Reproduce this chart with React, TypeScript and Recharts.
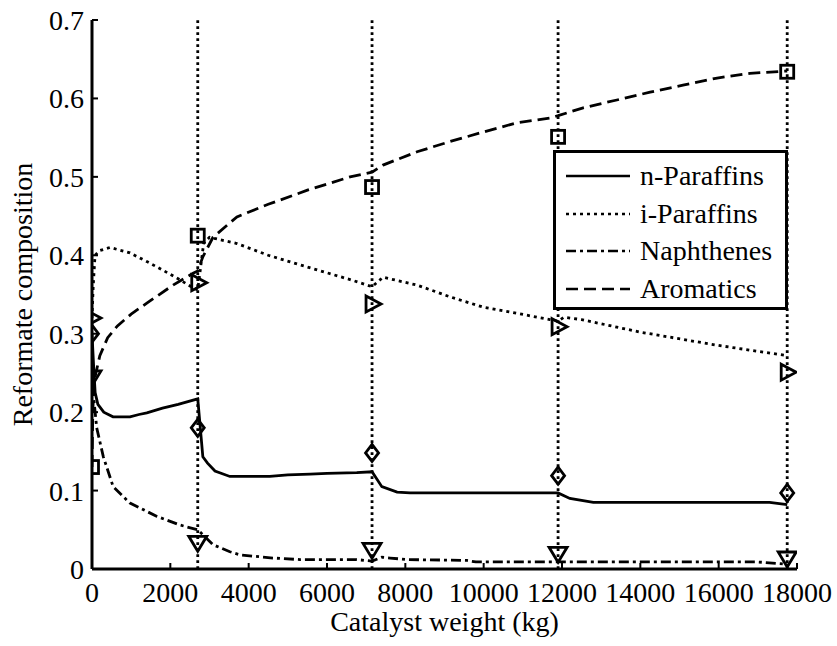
import {
  ComposedChart,
  Legend,
  Line,
  ReferenceLine,
  Scatter,
  XAxis,
  YAxis,
} from "recharts";

const FONT = '"Liberation Serif", "Times New Roman", serif';

const X_TICKS = [0, 2000, 4000, 6000, 8000, 10000, 12000, 14000, 16000, 18000];
const Y_TICKS = [0, 0.1, 0.2, 0.3, 0.4, 0.5, 0.6, 0.7];

// catalyst weight at the reactor inlet / outlets (kg)
const SAMPLE_W = [0, 2700, 7150, 11900, 17750];

// measured composition at those points
const NP_MEASURED = [0.3, 0.18, 0.148, 0.119, 0.097];
const IP_MEASURED = [0.32, 0.365, 0.338, 0.309, 0.251];
const NA_MEASURED = [0.245, 0.034, 0.025, 0.02, 0.014];
const AR_MEASURED = [0.13, 0.425, 0.487, 0.551, 0.634];

// model curves
const NP_W = [0, 40, 80, 150, 300, 536, 970, 1200, 1400, 1800, 2200, 2700, 2830, 2950, 3140, 3520, 4540, 5000, 5570, 6000, 6760, 7150, 7400, 7790, 8120, 11900, 12200, 12800, 17300, 17750];
const NP_V = [0.3, 0.26, 0.225, 0.21, 0.2, 0.194, 0.194, 0.197, 0.199, 0.205, 0.21, 0.217, 0.143, 0.135, 0.125, 0.118, 0.118, 0.12, 0.121, 0.122, 0.123, 0.124, 0.105, 0.098, 0.097, 0.097, 0.09, 0.085, 0.085, 0.082];

const IP_W = [0, 30, 77, 200, 460, 970, 1400, 1810, 2200, 2600, 2700, 2850, 3000, 3700, 4500, 5500, 6590, 7150, 7430, 8300, 9140, 9980, 10850, 11690, 11900, 12050, 12500, 14000, 16000, 17750];
const IP_V = [0.32, 0.36, 0.4, 0.406, 0.41, 0.403, 0.392, 0.381, 0.37, 0.358, 0.356, 0.415, 0.423, 0.415, 0.4, 0.385, 0.369, 0.36, 0.372, 0.362, 0.347, 0.334, 0.326, 0.318, 0.316, 0.321, 0.318, 0.302, 0.285, 0.272];

const NA_W = [0, 40, 120, 290, 540, 970, 1660, 2250, 2700, 3090, 3520, 3780, 4620, 5310, 6760, 7150, 7400, 7610, 8040, 9570, 9800, 17000, 17750];
const NA_V = [0.26, 0.22, 0.18, 0.143, 0.105, 0.084, 0.067, 0.056, 0.05, 0.031, 0.022, 0.018, 0.014, 0.012, 0.012, 0.01, 0.015, 0.014, 0.012, 0.011, 0.009, 0.009, 0.006];

const AR_W = [0, 20, 50, 100, 200, 400, 650, 1000, 1400, 2070, 2580, 2700, 2830, 3090, 3700, 4500, 5500, 6590, 7150, 7430, 8300, 9140, 9980, 10850, 11690, 11900, 12540, 13400, 14250, 15090, 15960, 16800, 17750];
const AR_V = [0.13, 0.2, 0.237, 0.25, 0.272, 0.295, 0.31, 0.325, 0.339, 0.362, 0.377, 0.38, 0.398, 0.423, 0.449, 0.465, 0.483, 0.5, 0.506, 0.515, 0.532, 0.545, 0.557, 0.569, 0.575, 0.578, 0.588, 0.598, 0.608, 0.617, 0.626, 0.632, 0.635];

const toPoints = (w: number[], v: number[]) => w.map((x, i) => ({ x, y: v[i] }));

const MARK = { fill: "none", stroke: "#000", strokeWidth: 2.8 };

const Square = ({ cx, cy }: any) => (
  <rect x={cx - 6.5} y={cy - 6.5} width={13} height={13} {...MARK} />
);
const Diamond = ({ cx, cy }: any) => (
  <polygon points={`${cx},${cy - 8.5} ${cx + 6.5},${cy} ${cx},${cy + 8.5} ${cx - 6.5},${cy}`} {...MARK} />
);
const TriRight = ({ cx, cy }: any) => (
  <polygon points={`${cx - 6},${cy - 8} ${cx + 9},${cy} ${cx - 6},${cy + 8}`} {...MARK} />
);
const TriDown = ({ cx, cy }: any) => (
  <polygon points={`${cx - 9},${cy - 6} ${cx + 9},${cy - 6} ${cx},${cy + 9}`} {...MARK} />
);

const SERIES = [
  { name: "n-Paraffins", w: NP_W, v: NP_V, measured: NP_MEASURED, dash: undefined, shape: Diamond },
  { name: "i-Paraffins", w: IP_W, v: IP_V, measured: IP_MEASURED, dash: "3 4", shape: TriRight },
  { name: "Naphthenes", w: NA_W, v: NA_V, measured: NA_MEASURED, dash: "10 4 3 4", shape: TriDown },
  { name: "Aromatics", w: AR_W, v: AR_V, measured: AR_MEASURED, dash: "12 6", shape: Square },
];

function LegendBox() {
  return (
    <div
      style={{
        boxSizing: "border-box",
        width: 235,
        height: 160,
        border: "3px solid #000",
        background: "#fff",
        padding: "4px 0 0 10px",
        fontFamily: FONT,
        fontSize: 28,
        color: "#000",
      }}
    >
      {SERIES.map((s) => (
        <div key={s.name} style={{ display: "flex", alignItems: "center", height: 37.7 }}>
          <svg width={64} height={10} style={{ marginRight: 10 }}>
            <line x1={0} y1={5} x2={64} y2={5} stroke="#000" strokeWidth={2.5} strokeDasharray={s.dash} />
          </svg>
          <span style={{ lineHeight: 1 }}>{s.name}</span>
        </div>
      ))}
    </div>
  );
}

const tickStyle = { fill: "#000", fontSize: 28, fontFamily: FONT };
const AXIS_LINE = { stroke: "#000", strokeWidth: 3 };
const TICK_LINE = { stroke: "#000", strokeWidth: 2 };

export default function App() {
  return (
    <div style={{ position: "absolute", left: 0, top: 0, width: 837, height: 646, background: "#fff" }}>
      <ComposedChart width={837} height={646} margin={{ top: 20, right: 40, left: 32, bottom: 0 }}>
        <XAxis
          xAxisId="b"
          type="number"
          dataKey="x"
          domain={[0, 18000]}
          allowDataOverflow
          ticks={X_TICKS}
          height={77}
          tickSize={-6}
          tickMargin={19}
          tick={tickStyle}
          axisLine={AXIS_LINE}
          tickLine={TICK_LINE}
          label={{ value: "Catalyst weight (kg)", position: "insideBottom", offset: 15, fill: "#000", fontSize: 28, fontFamily: FONT }}
        />
        <XAxis
          xAxisId="t"
          orientation="top"
          type="number"
          domain={[0, 18000]}
          allowDataOverflow
          ticks={X_TICKS}
          height={0}
          tickSize={-6}
          tick={false}
          axisLine={AXIS_LINE}
          tickLine={TICK_LINE}
        />
        <YAxis
          yAxisId="l"
          type="number"
          dataKey="y"
          domain={[0, 0.7]}
          allowDataOverflow
          ticks={Y_TICKS}
          width={60}
          tickSize={-6}
          tickMargin={14}
          tick={tickStyle}
          axisLine={AXIS_LINE}
          tickLine={TICK_LINE}
          label={{ value: "Reformate composition", angle: -90, position: "insideLeft", offset: -10, fill: "#000", fontSize: 28, fontFamily: FONT, style: { textAnchor: "middle" } }}
        />
        <YAxis
          yAxisId="r"
          orientation="right"
          type="number"
          domain={[0, 0.7]}
          allowDataOverflow
          ticks={Y_TICKS}
          width={0}
          tickSize={-6}
          tick={false}
          axisLine={AXIS_LINE}
          tickLine={TICK_LINE}
        />
        {SAMPLE_W.slice(1).map((w) => (
          <ReferenceLine key={w} x={w} xAxisId="b" yAxisId="l" stroke="#000" strokeWidth={2.8} strokeDasharray="2.8 3.2" />
        ))}
        {SERIES.map((s) => (
          <Line
            key={s.name}
            name={s.name}
            xAxisId="b"
            yAxisId="l"
            data={toPoints(s.w, s.v)}
            dataKey="y"
            type="linear"
            stroke="#000"
            strokeWidth={2.8}
            strokeDasharray={s.dash}
            dot={false}
            activeDot={false}
            isAnimationActive={false}
          />
        ))}
        {SERIES.map((s) => (
          <Scatter
            key={s.name + "-exp"}
            xAxisId="b"
            yAxisId="l"
            data={toPoints(SAMPLE_W, s.measured)}
            dataKey="y"
            shape={s.shape}
            legendType="none"
            isAnimationActive={false}
          />
        ))}
        <Legend
          layout="vertical"
          align="center"
          verticalAlign="middle"
          wrapperStyle={{ left: 553, top: 150, width: 235, height: 160 }}
          content={LegendBox}
        />
      </ComposedChart>
    </div>
  );
}
